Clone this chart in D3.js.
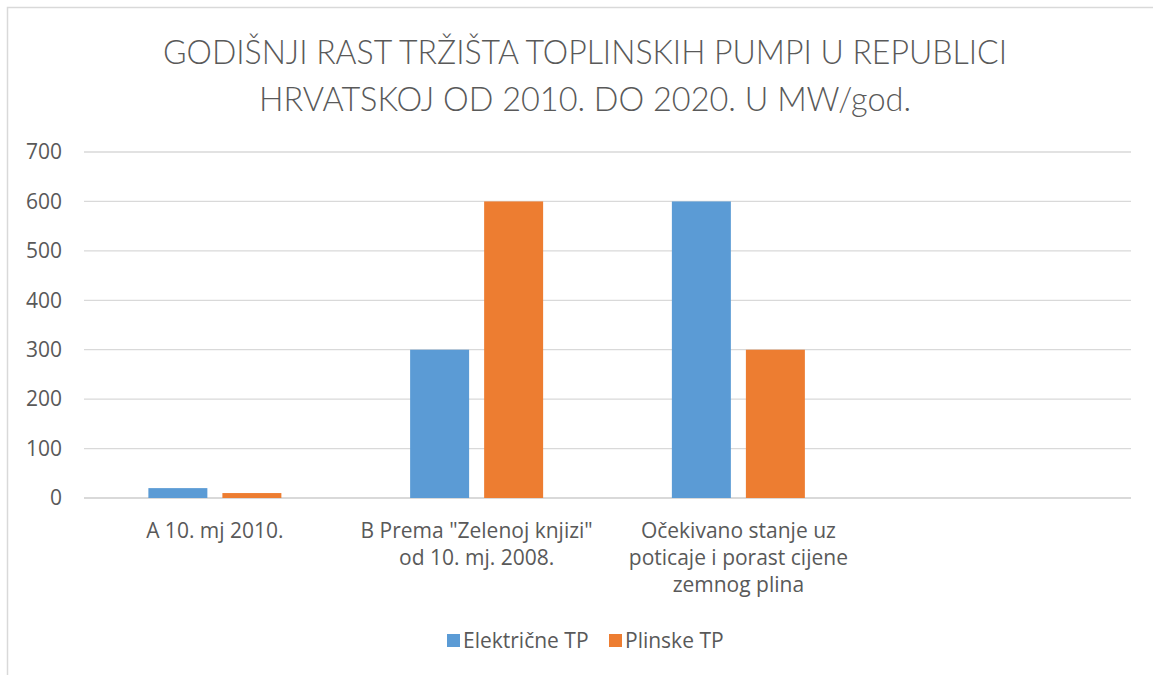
<!DOCTYPE html>
<html>
<head>
<meta charset="utf-8">
<script src="https://cdn.jsdelivr.net/npm/d3@7"></script>
<style>
  body { margin: 0; background: #fff; }
  text { font-family: "Open Sans", Lato, sans-serif; fill: #595959; }
</style>
</head>
<body>
<script>
// chart data
const categories = [
  ["A 10. mj 2010."],
  ["B Prema \"Zelenoj knjizi\"", "od 10. mj. 2008."],
  ["Očekivano stanje uz", "poticaje i porast cijene", "zemnog plina"],
  [""],
];
const seriesNames = ["Električne TP", "Plinske TP"];
const elektricne = [20, 300, 600, null];
const plinske = [10, 600, 300, null];
const yTicks = [0, 100, 200, 300, 400, 500, 600, 700];
const titleLines = [
  "GODIŠNJI RAST TRŽIŠTA TOPLINSKIH PUMPI U REPUBLICI",
  "HRVATSKOJ OD 2010. DO 2020. U MW/god.",
];

const width = 1153;
const height = 675;
const margin = { top: 152, right: 22, bottom: 177, left: 84 };
const colors = ["#5b9bd5", "#ed7d31"];
const labelSize = 21;

const svg = d3
  .select("body")
  .append("svg")
  .attr("width", width)
  .attr("height", height);

// chart frame (only left and top edges visible)
svg
  .append("path")
  .attr("d", `M7.5,${height} V7.5 H${width}`)
  .attr("fill", "none")
  .attr("stroke", "#d9d9d9")
  .attr("stroke-width", 1.5);

// title
svg
  .selectAll(".title")
  .data(titleLines)
  .enter()
  .append("text")
  .attr("class", "title")
  .attr("x", 585)
  .attr("y", (d, i) => 64 + i * 47)
  .attr("text-anchor", "middle")
  .attr("font-size", 33)
  .attr("font-weight", 300)
  .style("font-family", "Lato, sans-serif")
  .attr("textLength", (d, i) => [844, 652][i])
  .attr("lengthAdjust", "spacingAndGlyphs")
  .text((d) => d);

const g = svg
  .append("g")
  .attr("transform", `translate(${margin.left},${margin.top})`);

const innerW = width - margin.left - margin.right;
const innerH = 498 - margin.top;

const x0 = d3
  .scaleBand()
  .domain(d3.range(categories.length))
  .range([0, innerW])
  .padding(0);

const y = d3.scaleLinear().domain([0, 700]).range([innerH, 0]);

const groupW = 133;
const x1 = d3
  .scaleBand()
  .domain(d3.range(seriesNames.length))
  .range([0, groupW])
  .paddingInner(0.203);

// gridlines
g.selectAll(".grid")
  .data(yTicks)
  .enter()
  .append("line")
  .attr("x1", 0)
  .attr("x2", innerW)
  .attr("y1", (d) => y(d))
  .attr("y2", (d) => y(d))
  .attr("stroke", "#d9d9d9")
  .attr("stroke-width", (d) => (d === 0 ? 2 : 1.3));

// y axis labels
const yAxis = d3
  .axisLeft(y)
  .tickValues(yTicks)
  .tickSize(0)
  .tickPadding(22);
g.append("g")
  .call(yAxis)
  .call((a) => a.select(".domain").remove())
  .selectAll("text")
  .attr("font-size", labelSize)
  .attr("font-family", "'Open Sans', sans-serif")
  .attr("fill", "#595959");

// bars
const seriesData = [elektricne, plinske];
seriesData.forEach((vals, s) => {
  g.selectAll(".bar" + s)
    .data(vals.map((v, i) => ({ v, i })).filter((d) => d.v != null))
    .enter()
    .append("rect")
    .attr("x", (d) => x0(d.i) + (x0.bandwidth() - groupW) / 2 + x1(s))
    .attr("y", (d) => y(d.v))
    .attr("width", x1.bandwidth())
    .attr("height", (d) => innerH - y(d.v))
    .attr("fill", colors[s]);
});

// category labels
const catLabels = g
  .selectAll(".cat")
  .data(categories)
  .enter()
  .append("text")
  .attr("class", "cat")
  .attr("text-anchor", "middle")
  .attr("font-size", labelSize)
  .attr("transform", (d, i) => `translate(${x0(i) + x0.bandwidth() / 2},${innerH + 40})`);

catLabels
  .selectAll("tspan")
  .data((d) => d)
  .enter()
  .append("tspan")
  .attr("x", 0)
  .attr("y", (d, i) => i * 27)
  .text((d) => d);

// legend
const legendX = [447, 609];
const legend = svg
  .append("g")
  .attr("class", "legend")
  .selectAll("g")
  .data(seriesNames)
  .enter()
  .append("g")
  .attr("transform", (d, i) => `translate(${legendX[i]},634)`);

legend
  .append("rect")
  .attr("width", 13)
  .attr("height", 13)
  .attr("fill", (d, i) => colors[i]);

legend
  .append("text")
  .attr("x", 16)
  .attr("y", 14)
  .attr("font-size", labelSize)
  .text((d) => d);
</script>
</body>
</html>
